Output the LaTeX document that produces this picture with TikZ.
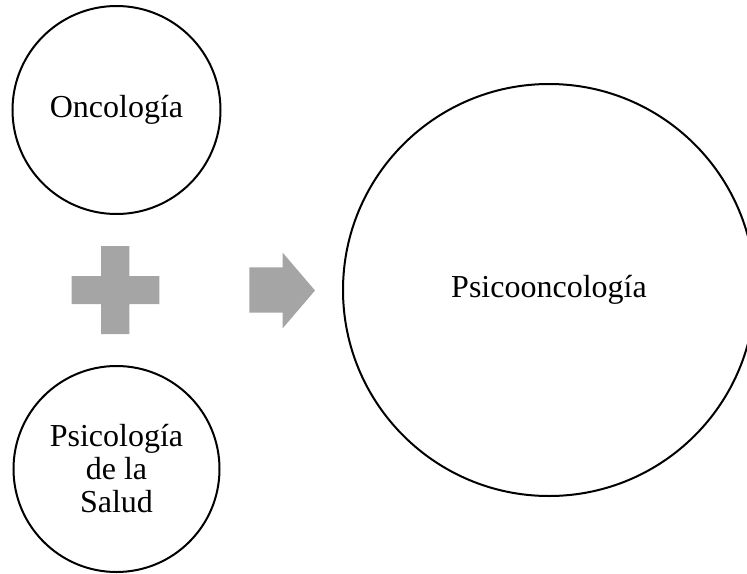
\documentclass[tikz,border=0pt]{standalone}
\usepackage{fontspec}
\setmainfont{Liberation Serif}
\definecolor{gris}{HTML}{A5A5A5}
\tikzset{campo/.style={circle,draw,line width=2pt,inner sep=0pt,align=center,font=\fontsize{32}{33}\selectfont}}
\begin{document}
\begin{tikzpicture}[x=1pt,y=-1pt]
\useasboundingbox (0,0) rectangle (747,573);

\node [campo,minimum size=208] (onco) at (116.5,110) {Oncología};
\node [campo,minimum size=206] (salud) at (116.5,469) {Psicología\\de la\\Salud};
\node [campo,minimum size=412] (psico) at (549,290) {Psicooncología};

% signo mas
\fill [gris] (101,246) -- (129.3,246) -- (129.3,276) -- (159.3,276) -- (159.3,304) -- (129.3,304) -- (129.3,334) -- (101,334) -- (101,304) -- (71.7,304) -- (71.7,276) -- (101,276) -- cycle;

% flecha
\fill [gris] (249.3,267.3) -- (282.7,267.3) -- (282.7,252.7) -- (315,290.5) -- (282.7,328.3) -- (282.7,312.7) -- (249.3,312.7) -- cycle;
\end{tikzpicture}
\end{document}
